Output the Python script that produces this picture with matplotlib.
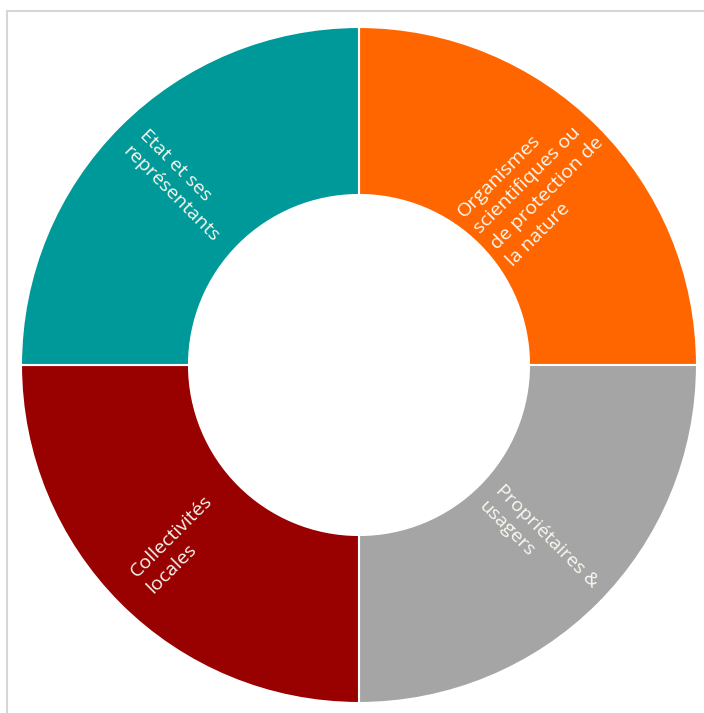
import numpy as np
import matplotlib
matplotlib.use("Agg")
import matplotlib.pyplot as plt
from matplotlib.patches import Rectangle

# parts of the donut, clockwise from the top
labels = ["Organismes\nscientifiques ou\nde protection de\nla nature",
          "Propriétaires &\nusagers",
          "Collectivités\nlocales",
          "Etat et ses\nreprésentants"]
shares = [25, 25, 25, 25]
colors = ["#FF6600", "#A5A5A5", "#990000", "#009999"]

W, H = 704, 713
fig = plt.figure(figsize=(W / 100, H / 100), dpi=100)
ax = fig.add_axes([0, 0, 1, 1])

cx, cy = 359, H - 365
r_out, r_in = 338, 170

wedges, _ = ax.pie(shares, colors=colors, startangle=90, counterclock=False,
                   radius=r_out, center=(cx, cy),
                   wedgeprops=dict(width=r_out - r_in, edgecolor="white", linewidth=1.5))

r_mid = (r_out + r_in) / 2
for w, lab in zip(wedges, labels):
    theta = (w.theta1 + w.theta2) / 2
    x = cx + r_mid * np.cos(np.radians(theta))
    y = cy + r_mid * np.sin(np.radians(theta))
    rot = theta
    if rot > 90:
        rot -= 180
    elif rot < -90:
        rot += 180
    ax.text(x, y, lab, rotation=rot, rotation_mode="anchor", ha="center", va="center",
            multialignment="left", color="#f8f8f0", fontsize=14, family="Open Sans",
            linespacing=1.35)

# thin frame of the original screenshot
ax.add_patch(Rectangle((7, -20), W + 20, H - 11 + 20, fill=False,
                       edgecolor="#d6d6d6", linewidth=1.5, clip_on=False))

ax.set_xlim(0, W)
ax.set_ylim(0, H)
ax.set_aspect("equal")
ax.axis("off")

fig.savefig("out.png", dpi=100, facecolor="white")
